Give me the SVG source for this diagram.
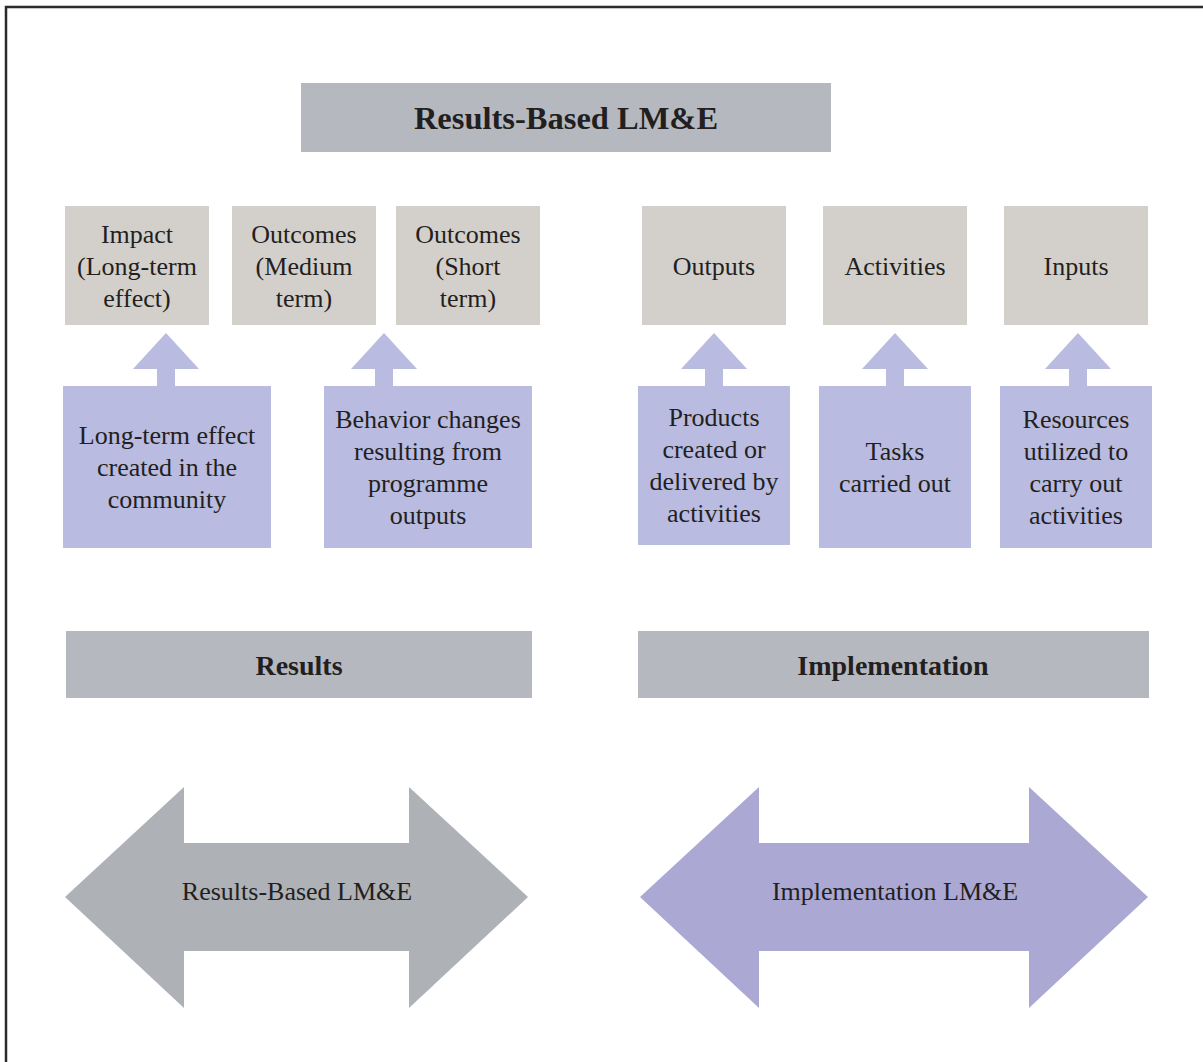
<svg xmlns="http://www.w3.org/2000/svg" width="1203" height="1062" viewBox="0 0 1203 1062">
<style>
text{font-family:"Liberation Serif","Times New Roman",serif;fill:#231f20;text-anchor:middle;font-size:26px}
.b{font-weight:bold;font-size:28px}
.t{font-size:32.5px}
.hdr{fill:#b5b9bf}
.lvl{fill:#d3d0cc}
.desc{fill:#b9bbe0}
.up{fill:#b9bbe0}
</style>
<rect x="6" y="7" width="1300" height="1200" fill="#fff" stroke="#2b2b2b" stroke-width="2.5"/>
<g id="title"><rect class="hdr" x="301" y="83" width="530" height="69"/><text class="b t" x="566" y="129">Results-Based LM&amp;E</text></g>

<g id="impact"><rect class="lvl" x="65" y="206" width="144" height="119"/><text x="137" y="243">Impact</text><text x="137" y="275">(Long-term</text><text x="137" y="307">effect)</text></g>
<g id="outcomes-medium"><rect class="lvl" x="232" y="206" width="144" height="119"/><text x="304" y="243">Outcomes</text><text x="304" y="275">(Medium</text><text x="304" y="307">term)</text></g>
<g id="outcomes-short"><rect class="lvl" x="396" y="206" width="144" height="119"/><text x="468" y="243">Outcomes</text><text x="468" y="275">(Short</text><text x="468" y="307">term)</text></g>
<g id="outputs"><rect class="lvl" x="642" y="206" width="144" height="119"/><text x="714" y="275">Outputs</text></g>
<g id="activities"><rect class="lvl" x="823" y="206" width="144" height="119"/><text x="895" y="275">Activities</text></g>
<g id="inputs"><rect class="lvl" x="1004" y="206" width="144" height="119"/><text x="1076" y="275">Inputs</text></g>

<g id="connectors">
<path class="up" d="M133,369 L166,333 L199,369 L175,369 L175,387 L157,387 L157,369 Z"/>
<path class="up" d="M351,369 L384,333 L417,369 L393,369 L393,387 L375,387 L375,369 Z"/>
<path class="up" d="M681,369 L714,333 L747,369 L723,369 L723,387 L705,387 L705,369 Z"/>
<path class="up" d="M862,369 L895,333 L928,369 L904,369 L904,387 L886,387 L886,369 Z"/>
<path class="up" d="M1045,369 L1078,333 L1111,369 L1087,369 L1087,387 L1069,387 L1069,369 Z"/>
</g>

<g id="desc-impact"><rect class="desc" x="63" y="386" width="208" height="162"/><text x="167" y="444">Long-term effect</text><text x="167" y="476">created in the</text><text x="167" y="508">community</text></g>
<g id="desc-outcomes"><rect class="desc" x="324" y="386" width="208" height="162"/><text x="428" y="428">Behavior changes</text><text x="428" y="460">resulting from</text><text x="428" y="492">programme</text><text x="428" y="524">outputs</text></g>
<g id="desc-outputs"><rect class="desc" x="638" y="386" width="152" height="159"/><text x="714" y="426">Products</text><text x="714" y="458">created or</text><text x="714" y="490">delivered by</text><text x="714" y="522">activities</text></g>
<g id="desc-activities"><rect class="desc" x="819" y="386" width="152" height="162"/><text x="895" y="460">Tasks</text><text x="895" y="492">carried out</text></g>
<g id="desc-inputs"><rect class="desc" x="1000" y="386" width="152" height="162"/><text x="1076" y="428">Resources</text><text x="1076" y="460">utilized to</text><text x="1076" y="492">carry out</text><text x="1076" y="524">activities</text></g>

<g id="results"><rect class="hdr" x="66" y="631" width="466" height="67"/><text class="b" x="299" y="675">Results</text></g>
<g id="implementation"><rect class="hdr" x="638" y="631" width="511" height="67"/><text class="b" x="893" y="675">Implementation</text></g>

<g id="results-lme"><path fill="#aeb1b6" d="M65,897 L184,787 L184,843 L409,843 L409,787 L528,897 L409,1008 L409,951 L184,951 L184,1008 Z"/><text x="297" y="900">Results-Based LM&amp;E</text></g>
<g id="implementation-lme"><path fill="#aba8d4" d="M640,897 L759,787 L759,843 L1029,843 L1029,787 L1148,897 L1029,1008 L1029,951 L759,951 L759,1008 Z"/><text x="895" y="900">Implementation LM&amp;E</text></g>
</svg>
